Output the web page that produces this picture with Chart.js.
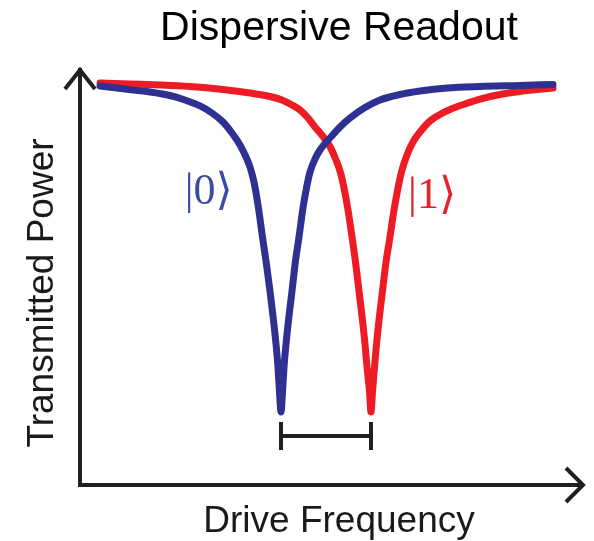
<!DOCTYPE html>
<html><head><meta charset="utf-8">
<script src="https://cdn.jsdelivr.net/npm/chart.js@4/dist/chart.umd.min.js"></script>
<style>html,body{margin:0;padding:0;background:#fff}#wrap{width:594px;height:541px;position:relative}</style>
</head><body><div id="wrap"><canvas id="c"></canvas></div>
<script>
// ---- text ----
const chartTitle = 'Dispersive Readout';
const xAxisLabel = 'Drive Frequency';
const yAxisLabel = 'Transmitted Power';
const state0Label = '|0\u27E9';
const state1Label = '|1\u27E9';

// ---- data (arbitrary units) ----
// qubit in |0>  (blue)
const freq0  = [3.98, 8.95, 13.92, 17.89, 20.87, 23.86, 26.24, 28.43, 30.22, 31.81, 33.00, 33.80, 34.59, 35.39, 36.28, 36.98, 37.77, 38.37, 38.97, 39.36, 39.66, 39.96,
                40.26, 40.56, 40.96, 41.55, 42.15, 42.84, 43.54, 44.33, 45.03, 45.73, 46.72, 47.71, 48.71, 49.70, 51.69, 53.68, 56.66, 59.64, 63.62, 67.60, 72.96, 79.52, 87.48, 94.04];
const power0 = [96.14, 95.42, 94.70, 93.86, 92.77, 91.33, 89.64, 87.47, 84.82, 81.93, 79.04, 76.63, 73.01, 67.47, 59.76, 53.98, 46.75, 40.72, 33.98, 28.43, 22.41, 17.59,
                22.41, 28.43, 33.98, 40.72, 46.75, 53.98, 59.76, 66.75, 71.57, 75.42, 78.55, 80.72, 82.29, 83.61, 86.27, 88.43, 90.96, 92.77, 94.10, 94.94, 95.66, 96.02, 96.27, 96.51];
// qubit in |1>  (red)
const freq1  = [3.98, 9.94, 15.90, 21.87, 28.43, 33.80, 37.77, 40.16, 42.15, 43.74, 45.33, 46.72, 47.91, 48.91, 49.70, 50.69, 51.69, 52.49, 53.28, 54.08, 54.77, 55.47, 56.06, 56.66, 57.06, 57.56, 57.85,
                58.15, 58.55, 58.95, 59.54, 60.14, 60.84, 61.63, 62.43, 63.22, 64.02, 65.01, 66.20, 67.60, 69.58, 71.57, 73.56, 76.54, 79.52, 83.50, 87.48, 94.04];
const power1 = [96.87, 96.63, 96.39, 96.02, 95.30, 94.46, 93.61, 92.77, 91.57, 90.36, 88.43, 86.27, 84.58, 83.01, 81.57, 78.92, 75.66, 71.57, 66.27, 59.76, 53.73, 46.75, 40.72, 33.98, 28.43, 22.41, 17.59,
                22.41, 28.43, 33.98, 40.72, 46.75, 53.73, 59.76, 66.27, 71.57, 75.90, 79.52, 82.65, 85.06, 87.71, 89.28, 90.48, 91.81, 93.01, 94.10, 94.82, 95.66];

const BLUE = '#2E3192';
const RED = '#ED1C24';
const INK = '#231F20';

const toPts = (xs, ys) => xs.map((x, i) => ({x: x, y: ys[i]}));

const overlay = {
  id: 'overlay',
  afterDraw(chart) {
    const {ctx, chartArea: a, scales: {x, y}} = chart;
    ctx.save();
    ctx.strokeStyle = INK;
    ctx.lineWidth = 4;
    ctx.lineJoin = 'miter';
    ctx.lineCap = 'butt';
    ctx.fillStyle = INK;
    ctx.fillRect(a.left - 2, a.bottom - 2, 4, 4);
    // y arrow head
    ctx.beginPath();
    ctx.moveTo(a.left - 15, a.top + 19);
    ctx.lineTo(a.left, a.top);
    ctx.lineTo(a.left + 15, a.top + 19);
    ctx.stroke();
    // x arrow head
    ctx.beginPath();
    ctx.moveTo(a.right - 17, a.bottom - 17);
    ctx.lineTo(a.right, a.bottom);
    ctx.lineTo(a.right - 17, a.bottom + 17);
    ctx.stroke();

    // dispersive shift bracket between the two minima
    const i0 = power0.indexOf(Math.min(...power0));
    const i1 = power1.indexOf(Math.min(...power1));
    const bx0 = x.getPixelForValue(freq0[i0]);
    const bx1 = x.getPixelForValue(freq1[i1]);
    const by = y.getPixelForValue(Math.min(power0[i0], power1[i1])) + 24;
    ctx.beginPath();
    ctx.moveTo(bx0, by); ctx.lineTo(bx1, by);
    ctx.moveTo(bx0, by - 14); ctx.lineTo(bx0, by + 14);
    ctx.moveTo(bx1, by - 14); ctx.lineTo(bx1, by + 14);
    ctx.stroke();

    // texts
    ctx.fillStyle = '#000';
    ctx.textAlign = 'center';
    ctx.textBaseline = 'alphabetic';
    ctx.font = '41px "Liberation Sans", Arial, sans-serif';
    ctx.fillText(chartTitle, 339, 40);
    ctx.font = '37px "Liberation Sans", Arial, sans-serif';
    ctx.fillStyle = '#1a1a1a';
    ctx.fillText(xAxisLabel, 339, 532);
    ctx.save();
    ctx.translate(53, 293);
    ctx.rotate(-Math.PI / 2);
    ctx.fillText(yAxisLabel, 0, 0);
    ctx.restore();

    // state labels
    ctx.textBaseline = 'middle';
    ctx.font = '44px "Liberation Serif", "DejaVu Serif", serif';
    ctx.fillStyle = '#3B4CA3';
    ctx.fillText(state0Label, x.getPixelForValue(25.6), y.getPixelForValue(70.4));
    ctx.fillStyle = '#E3222A';
    ctx.fillText(state1Label, x.getPixelForValue(70.0), y.getPixelForValue(69.6));
    ctx.restore();
  }
};

new Chart(document.getElementById('c'), {
  type: 'line',
  data: {
    datasets: [
      {label: state0Label, data: toPts(freq0, power0), borderColor: BLUE, borderWidth: 7,
       pointRadius: 0, cubicInterpolationMode: 'monotone', borderCapStyle: 'round', borderJoinStyle: 'round', fill: false, clip: false},
      {label: state1Label, data: toPts(freq1, power1), borderColor: RED, borderWidth: 7,
       pointRadius: 0, cubicInterpolationMode: 'monotone', borderCapStyle: 'round', borderJoinStyle: 'round', fill: false, clip: false}
    ]
  },
  options: {
    responsive: true,
    maintainAspectRatio: false,
    animation: false,
    events: [],
    layout: {padding: {top: 70, left: 80, right: 11, bottom: 56}},
    plugins: {legend: {display: false}, tooltip: {enabled: false}, title: {display: false}},
    scales: {
      x: {type: 'linear', min: 0, max: 100,
          ticks: {display: false},
          grid: {display: false, drawTicks: false, drawOnChartArea: false, tickLength: 0},
          border: {display: true, color: INK, width: 4},
          title: {display: false, text: xAxisLabel}},
      y: {type: 'linear', min: 0, max: 100,
          ticks: {display: false},
          grid: {display: false, drawTicks: false, drawOnChartArea: false, tickLength: 0},
          border: {display: true, color: INK, width: 4},
          title: {display: false, text: yAxisLabel}}
    }
  },
  plugins: [overlay]
});
</script>
</body></html>
